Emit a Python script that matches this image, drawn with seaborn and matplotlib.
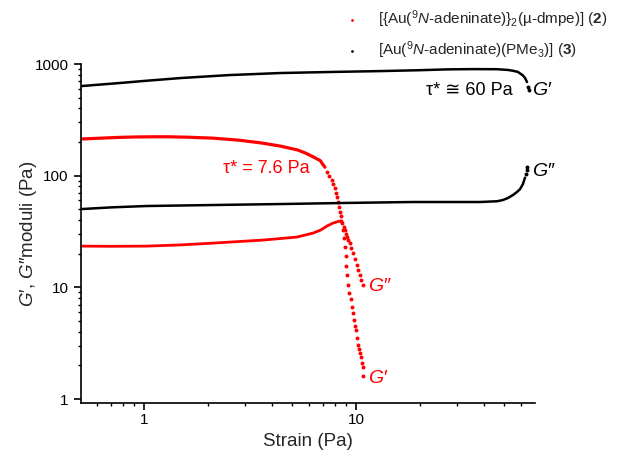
import matplotlib
matplotlib.use("Agg")
import matplotlib.pyplot as plt
import seaborn as sns
import pandas as pd
from matplotlib.ticker import FixedLocator, FixedFormatter, NullFormatter

# ---------------- data ----------------
# compound 2 : [{Au(9N-adeninate)}2(mu-dmpe)]  (red)
c2_gp_line_strain = [0.505, 0.6, 0.75, 0.9, 1.1, 1.3, 1.6, 2.1, 2.8, 3.6, 4.4, 5.3, 5.8, 6.3, 6.8, 6.96, 7.14]
c2_gp_line_mod = [213, 216, 220, 222, 223, 223, 221, 217, 208, 196, 184, 170, 159, 147, 136, 127, 119]
c2_gp_dot_strain = [7.32, 7.48, 7.68, 7.81, 7.96, 8.05, 8.16, 8.25, 8.34, 8.41, 8.47, 8.53,
                    8.68, 8.78, 8.87, 8.97, 9.02, 9.07, 9.16, 9.26, 9.47, 9.57, 9.67, 9.78,
                    9.89, 10.0, 10.1, 10.2, 10.3, 10.4, 10.6, 10.7, 10.8, 10.85]
c2_gp_dot_mod = [108, 99, 91.4, 83.6, 76.9, 70.3, 64.0, 58.4, 52.7, 47.5, 43.5, 39.2,
                 32.6, 27.6, 22.9, 19.0, 15.6, 12.8, 10.5, 8.9, 7.85, 6.66, 5.89, 5.10,
                 4.50, 4.15, 3.52, 3.04, 2.80, 2.58, 2.38, 2.10, 1.93, 1.61]
c2_gpp_line_strain = [0.505, 0.7, 1.03, 1.5, 2.12, 3.64, 5.27, 6.27, 6.8, 7.3, 7.8, 8.14, 8.45]
c2_gpp_line_mod = [23.4, 23.3, 23.4, 24.0, 24.9, 26.5, 28.2, 30.6, 32.5, 35.4, 37.6, 38.6, 39.3]
c2_gpp_dot_strain = [8.6, 8.75, 8.87, 9.0, 9.1, 9.2, 9.36, 9.5, 9.67, 9.85, 10.1, 10.25, 10.4, 10.6, 10.8]
c2_gpp_dot_mod = [37.6, 34.5, 32.5, 30.0, 28.2, 26.8, 24.9, 22.5, 20.3, 18.0, 15.8, 14.2, 12.9, 11.6, 10.5]

# compound 3 : [Au(9N-adeninate)(PMe3)]  (black)
c3_gp_line_strain = [0.505, 0.8, 1.0, 1.48, 2.5, 4.38, 8.0, 13.0, 20.0, 26.9, 35.0, 46.3,
                     52.0, 55.0, 58.0, 61.3, 62.7, 64.1]
c3_gp_line_mod = [634, 680, 705, 748, 795, 830, 850, 864, 880, 895, 900, 898,
                  885, 870, 850, 790, 750, 690]
c3_gp_dot_strain = [64.8, 65.6]
c3_gp_dot_mod = [625, 585]
c3_gpp_line_strain = [0.505, 0.7, 1.03, 2.12, 4.38, 9.07, 18.6, 38.5, 46.3, 49.3, 52.0,
                      55.0, 57.4, 59.5, 61.3, 62.7]
c3_gpp_line_mod = [50.2, 52.0, 53.5, 54.6, 55.7, 57.0, 58.1, 58.1, 59.0, 60.5, 63.0,
                   67.0, 71.3, 76.0, 84.0, 96.0]
c3_gpp_dot_strain = [63.6, 64.1, 64.4]
c3_gpp_dot_mod = [104, 112, 120]

label2 = "[{Au($^{9}$$\\mathit{N}$-adeninate)}$_{2}$(µ-dmpe)] ($\\mathbf{2}$)"
label3 = "[Au($^{9}$$\\mathit{N}$-adeninate)(PMe$_{3}$)] ($\\mathbf{3}$)"

x_major = [1, 10]
x_major_labels = ["1", "10"]
x_minor = [0.6, 0.7, 0.8, 0.9, 2, 3, 4, 5, 6, 7, 8, 9, 20, 30, 40, 50, 60]
y_major = [1, 10, 100, 1000]
y_major_labels = ["1", "10", "100", "1000"]
y_minor = [m * d for d in (1, 10, 100) for m in range(2, 10)]

RED = "#ff0000"
BLACK = "#000000"

# ---------------- style ----------------
sns.set_style("ticks")
plt.rcParams["font.family"] = ["Liberation Sans", "DejaVu Sans"]
plt.rcParams["mathtext.fontset"] = "custom"
plt.rcParams["mathtext.rm"] = "Liberation Sans"
plt.rcParams["mathtext.it"] = "Liberation Sans:italic"
plt.rcParams["mathtext.bf"] = "Liberation Sans:bold"

fig = plt.figure(figsize=(6.19, 4.57), dpi=100)
ax = fig.add_axes([0.13086, 0.11816, 0.73344, 0.74179])

def line(xs, ys, color, lw=2.0):
    df = pd.DataFrame({"x": xs, "y": ys})
    sns.lineplot(data=df, x="x", y="y", color=color, lw=lw, ax=ax,
                 estimator=None, sort=False, legend=False)

def dots(xs, ys, color, label=None, s=8):
    df = pd.DataFrame({"x": xs, "y": ys})
    sns.scatterplot(data=df, x="x", y="y", color=color, s=s, linewidth=0,
                    ax=ax, label=label, legend=False if label is None else "auto")

line(c2_gp_line_strain, c2_gp_line_mod, RED, 2.3)
line(c2_gpp_line_strain, c2_gpp_line_mod, RED, 2.0)
line(c3_gp_line_strain, c3_gp_line_mod, BLACK, 1.8)
line(c3_gpp_line_strain, c3_gpp_line_mod, BLACK, 1.8)
dots(c2_gp_dot_strain, c2_gp_dot_mod, RED, label2)
dots(c2_gpp_dot_strain, c2_gpp_dot_mod, RED)
dots(c3_gp_dot_strain, c3_gp_dot_mod, BLACK, label3)
dots(c3_gpp_dot_strain, c3_gpp_dot_mod, BLACK)

ax.set_xscale("log")
ax.set_yscale("log")
ax.set_xlim(0.5047, 69.9)
ax.set_ylim(0.921, 1000)

ax.xaxis.set_major_locator(FixedLocator(x_major))
ax.xaxis.set_major_formatter(FixedFormatter(x_major_labels))
ax.xaxis.set_minor_locator(FixedLocator(x_minor))
ax.xaxis.set_minor_formatter(NullFormatter())
ax.yaxis.set_major_locator(FixedLocator(y_major))
ax.yaxis.set_major_formatter(FixedFormatter(y_major_labels))
ax.yaxis.set_minor_locator(FixedLocator(y_minor))
ax.yaxis.set_minor_formatter(NullFormatter())

for side in ("top", "right"):
    ax.spines[side].set_visible(False)
for side in ("left", "bottom"):
    ax.spines[side].set_linewidth(1.2)
    ax.spines[side].set_color("black")

ax.tick_params(which="major", direction="out", length=5, width=1.2,
               labelsize=11, colors="black")
ax.tick_params(axis="x", which="major", pad=2.5)
ax.tick_params(axis="y", which="major", pad=4)
ax.tick_params(which="minor", direction="out", length=2.5, width=1.0, colors="black")

ax.set_xlabel("Strain (Pa)", fontsize=13.5, labelpad=4)
ax.set_ylabel("$\\mathit{G}$′, $\\mathit{G}$″moduli (Pa)", fontsize=13.5, labelpad=-3)

# annotations
ax.text(55.0, 584, "τ* ≅ 60 Pa", color=BLACK, fontsize=13, ha="right", va="center")
ax.text(6.07, 117, "τ* = 7.6 Pa", color=RED, fontsize=13, ha="right", va="center")
ax.text(67.6, 584, "G′", color=BLACK, fontsize=14, style="italic", ha="left", va="center")
ax.text(67.6, 108, "G″", color=BLACK, fontsize=14, style="italic", ha="left", va="center")
ax.text(11.4, 10.1, "G″", color=RED, fontsize=14, style="italic", ha="left", va="center")
ax.text(11.4, 1.54, "G′", color=RED, fontsize=14, style="italic", ha="left", va="center")

handles, labels = ax.get_legend_handles_labels()
leg = ax.legend(handles, labels, loc="upper left", bbox_to_anchor=(0.5588, 0.982),
                bbox_transform=fig.transFigure, frameon=False, fontsize=11,
                handlelength=0.8, handletextpad=1.3, labelspacing=0.65,
                borderpad=0, borderaxespad=0, markerscale=0.7)

fig.savefig("out.png", dpi=100)
